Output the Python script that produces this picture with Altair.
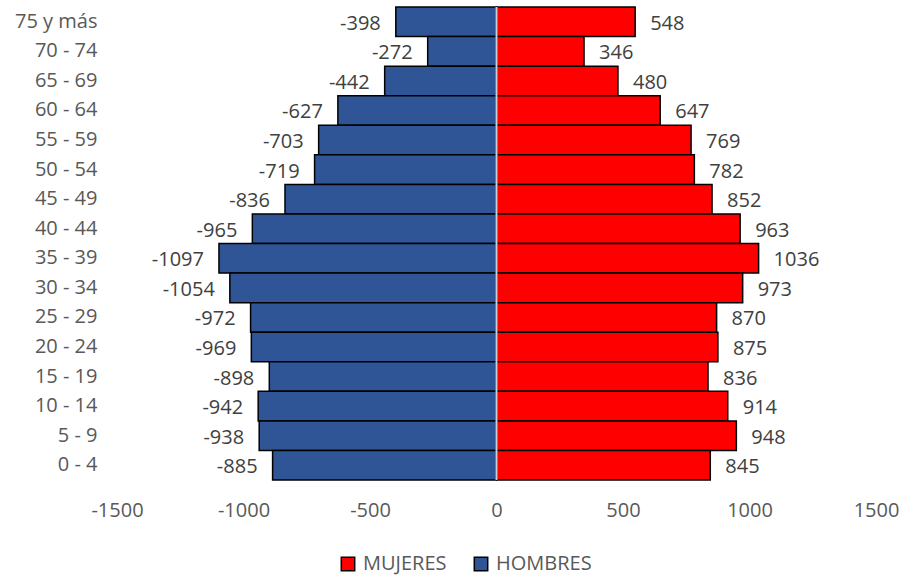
import altair as alt
import pandas as pd

categorias = ["75 y más", "70 - 74", "65 - 69", "60 - 64", "55 - 59", "50 - 54",
              "45 - 49", "40 - 44", "35 - 39", "30 - 34", "25 - 29", "20 - 24",
              "15 - 19", "10 - 14", "5 - 9", "0 - 4"]
hombres = [-398, -272, -442, -627, -703, -719, -836, -965, -1097, -1054,
           -972, -969, -898, -942, -938, -885]
mujeres = [548, 346, 480, 647, 769, 782, 852, 963, 1036, 973,
           870, 875, 836, 914, 948, 845]
x_ticks = [-1500, -1000, -500, 0, 500, 1000, 1500]

rows = []
for c, h, m in zip(categorias, hombres, mujeres):
    rows.append({"edad": c, "sexo": "HOMBRES", "valor": h})
    rows.append({"edad": c, "sexo": "MUJERES", "valor": m})
df = pd.DataFrame(rows)

FONT = "Open Sans"
W, H = 759, 473

y_enc = alt.Y("edad:N", sort=categorias, title=None,
              scale=alt.Scale(paddingInner=0, paddingOuter=0),
              axis=alt.Axis(domain=False, ticks=False, labelPadding=20,
                            labelFontSize=20, labelColor="#595959", labelFont=FONT))
x_enc = alt.X("valor:Q", title=None, stack=None,
              scale=alt.Scale(domain=[-1500, 1500], nice=False),
              axis=alt.Axis(values=x_ticks, domain=False, ticks=False, grid=False,
                            labelPadding=20, labelFontSize=20, labelColor="#595959",
                            labelFont=FONT, labelFlush=False,
                            labelExpr="'' + datum.value"))

bars = alt.Chart(df).mark_bar(stroke="black", strokeWidth=1.5).encode(
    y=y_enc,
    x=x_enc,
    color=alt.Color("sexo:N",
                    scale=alt.Scale(domain=["MUJERES", "HOMBRES"],
                                    range=["#FF0000", "#2F5597"]),
                    legend=alt.Legend(title=None, orient="none", direction="horizontal",
                                      legendX=221, legendY=547,
                                      symbolType="square", symbolSize=180,
                                      symbolStrokeColor="black", symbolStrokeWidth=1.5,
                                      labelFontSize=20, labelColor="#595959",
                                      labelFont=FONT, labelOffset=5,
                                      columnPadding=24, padding=0)),
)

neg = alt.Chart(df).transform_filter("datum.valor < 0").transform_calculate(
    etiqueta="'' + datum.valor"
).mark_text(
    align="right", baseline="middle", dx=-15, dy=2, fontSize=20,
    font=FONT, color="#404040"
).encode(y=alt.Y("edad:N", sort=categorias), x="valor:Q", text="etiqueta:N")

pos = alt.Chart(df).transform_filter("datum.valor > 0").transform_calculate(
    etiqueta="'' + datum.valor"
).mark_text(
    align="left", baseline="middle", dx=15, dy=2, fontSize=20,
    font=FONT, color="#404040"
).encode(y=alt.Y("edad:N", sort=categorias), x="valor:Q", text="etiqueta:N")

zero = alt.Chart(pd.DataFrame({"x": [0]})).mark_rule(
    color="#C5CFDA", strokeWidth=2
).encode(x="x:Q", y=alt.value(0), y2=alt.value(H))

chart = alt.layer(bars, zero, neg, pos).properties(
    width=W, height=H,
    background="white",
    autosize=alt.AutoSizeParams(type="none"),
    padding={"left": 117, "top": 7, "right": 28, "bottom": 96},
).configure_view(strokeWidth=0, stroke="transparent")

chart.save("out.html", embed_options={"renderer": "svg", "actions": False})
